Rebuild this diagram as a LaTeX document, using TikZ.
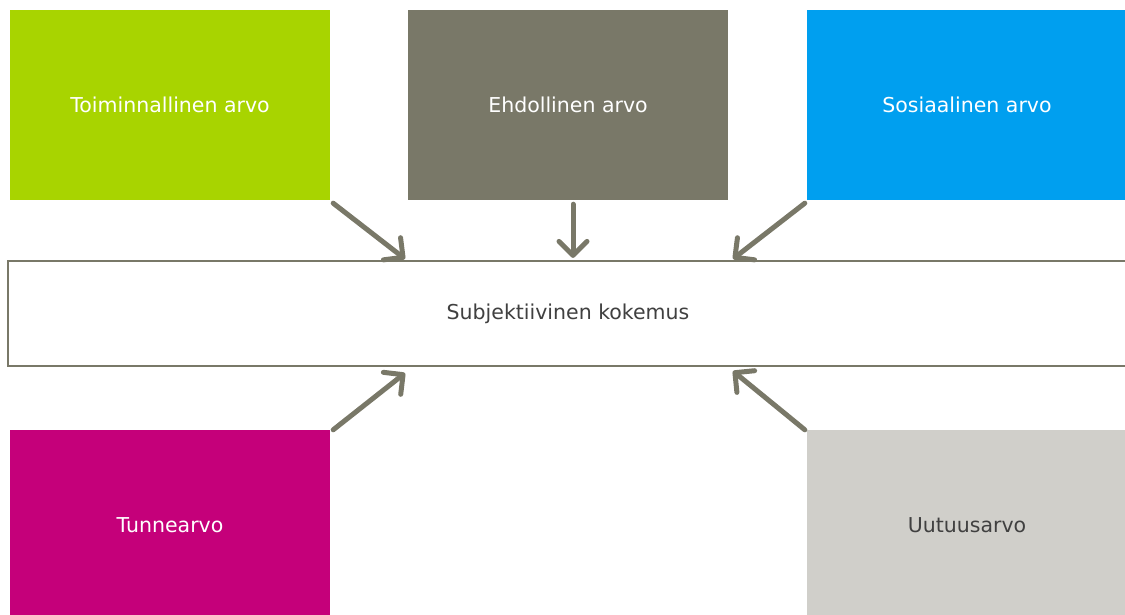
\documentclass[tikz,border=0pt]{standalone}
\usepackage{fontspec}
\setmainfont{DejaVu Sans}
\usetikzlibrary{arrows.meta,calc}
\definecolor{cgreen}{HTML}{A8D400}
\definecolor{cgrey}{HTML}{797868}
\definecolor{cblue}{HTML}{009FEF}
\definecolor{cmag}{HTML}{C5007A}
\definecolor{clight}{HTML}{D0CFCA}
\definecolor{ctext}{HTML}{404040}
\tikzset{
  valbox/.style={minimum width=320pt,minimum height=190pt,inner sep=0pt,
    font=\fontsize{20.5}{24}\selectfont,text=white},
  midbox/.style={draw=cgrey,line width=2.2pt,fill=white,minimum width=1120pt,
    minimum height=105pt,inner sep=0pt,font=\fontsize{20.5}{24}\selectfont,text=ctext},
  arr/.style={draw=cgrey,line width=5pt,line cap=round,
    -{Straight Barb[length=14pt,width=28pt,line width=5pt,round]}}
}
\begin{document}
\begin{tikzpicture}[x=1pt,y=-1pt]
\useasboundingbox (0,0) rectangle (1125,615);
\clip (0,0) rectangle (1125,615);
\node[valbox,fill=cgreen] (g) at (170,105) {Toiminnallinen arvo};
\node[valbox,fill=cgrey] (e) at (568,105) {Ehdollinen arvo};
\node[valbox,fill=cblue] (s) at (967,105) {Sosiaalinen arvo};
\node[midbox] (m) at (568,313.5) {Subjektiivinen kokemus};
\node[valbox,fill=cmag] (t) at (170,525) {Tunnearvo};
\node[valbox,fill=clight,text=ctext] (u) at (967,525) {Uutuusarvo};
\draw[arr] ([shift={(3,3)}]g.south east) -- ([xshift=-163,yshift=1]m.north);
\draw[arr] ([shift={(5,4)}]e.south) -- ([xshift=5,yshift=2]m.north);
\draw[arr] ([shift={(-2,3)}]s.south west) -- ([xshift=165,yshift=1]m.north);
\draw[arr] ([shift={(3,0)}]t.north east) -- ([xshift=-163,yshift=-6]m.south);
\draw[arr] ([shift={(-2,0)}]u.north west) -- ([xshift=165,yshift=-4]m.south);
\end{tikzpicture}
\end{document}
